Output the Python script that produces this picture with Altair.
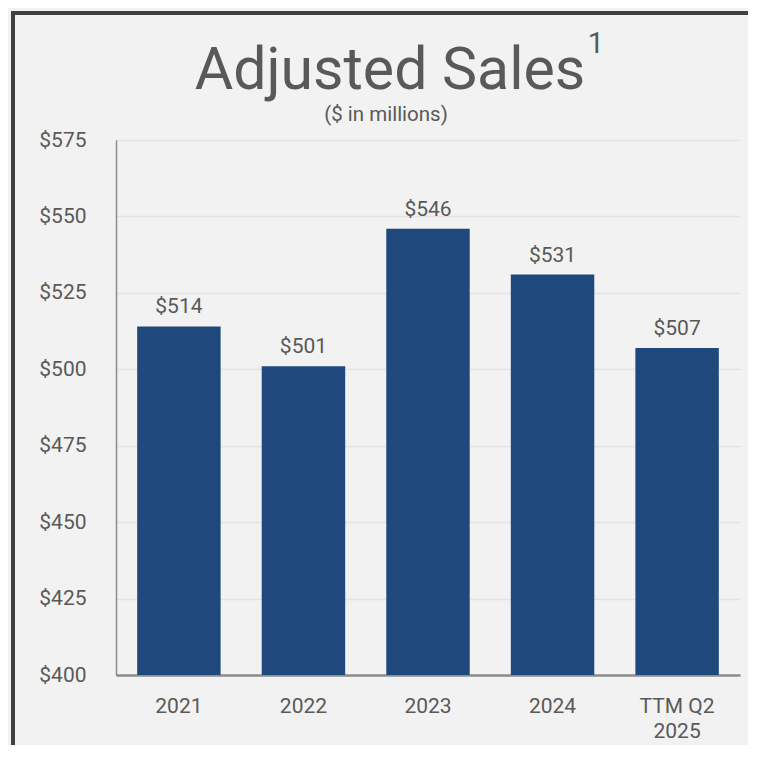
import altair as alt
import pandas as pd

categories = ["2021", "2022", "2023", "2024", "TTM Q2 2025"]
values = [514, 501, 546, 531, 507]
y_ticks = [400, 425, 450, 475, 500, 525, 550, 575]
title_text = "Adjusted Sales"
title_sup = "1"
subtitle_text = "($ in millions)"

df = pd.DataFrame({"period": categories, "sales": values})

FONT = "Roboto"
TXT = "#595959"
BAR = "#1F497D"

x_enc = alt.X(
    "period:N",
    sort=categories,
    title=None,
    scale=alt.Scale(paddingInner=0.33, paddingOuter=0.17),
    axis=alt.Axis(
        labelAngle=0,
        labelFont=FONT,
        labelFontSize=21,
        labelColor=TXT,
        labelPadding=20,
        labelLineHeight=25,
        ticks=False,
        domainColor="#8c8c8c",
        domainWidth=2.5,
        labelExpr="datum.label == 'TTM Q2 2025' ? ['TTM Q2', '2025'] : datum.label",
    ),
)

y_enc = alt.Y(
    "sales:Q",
    title=None,
    scale=alt.Scale(domain=[400, 575], nice=False, zero=False),
    axis=alt.Axis(
        values=y_ticks,
        labelExpr="'$' + datum.value",
        labelFont=FONT,
        labelFontSize=21,
        labelColor=TXT,
        labelPadding=30,
        ticks=False,
        domainColor="#8c8c8c",
        domainWidth=1.5,
        gridColor="#e4e4e4",
        gridWidth=1.5,
    ),
)

bars = alt.Chart(df).mark_bar(color=BAR).encode(
    x=x_enc, y=y_enc, y2=alt.datum(400)
)

labels = (
    alt.Chart(df)
    .transform_calculate(lbl="'$' + datum.sales")
    .mark_text(baseline="alphabetic", dy=-13, font=FONT, fontSize=21, color=TXT)
    .encode(x=alt.X("period:N", sort=categories), y="sales:Q", text="lbl:N")
)

one = pd.DataFrame({"t": [0]})

title = alt.Chart(one).mark_text(
    text=title_text, font=FONT, fontSize=59, color=TXT,
    baseline="alphabetic", align="center",
).encode(x=alt.value(274), y=alt.value(-51))

sup = alt.Chart(one).mark_text(
    text=title_sup, font=FONT, fontSize=29, color=TXT,
    baseline="alphabetic", align="center",
).encode(x=alt.value(480), y=alt.value(-87))

subtitle = alt.Chart(one).mark_text(
    text=subtitle_text, font=FONT, fontSize=20.5, color=TXT,
    baseline="alphabetic", align="center",
).encode(x=alt.value(270), y=alt.value(-19))

border_top = alt.Chart(one).mark_rule(
    color="#404040", strokeWidth=4
).encode(x=alt.value(-105), x2=alt.value(700), y=alt.value(-127))
border_left = alt.Chart(one).mark_rule(
    color="#404040", strokeWidth=4
).encode(x=alt.value(-103), y=alt.value(-129), y2=alt.value(700))

chart = (
    alt.layer(bars, labels, title, sup, subtitle, border_top, border_left)
    .properties(
        width=624,
        height=535,
        autosize=alt.AutoSizeParams(type="none"),
        padding={"left": 108, "top": 132, "right": 8, "bottom": 70},
        background="#f2f2f2",
    )
    .configure_view(stroke=None)
)

chart.save("out.html", embed_options={"renderer": "svg", "actions": False})
